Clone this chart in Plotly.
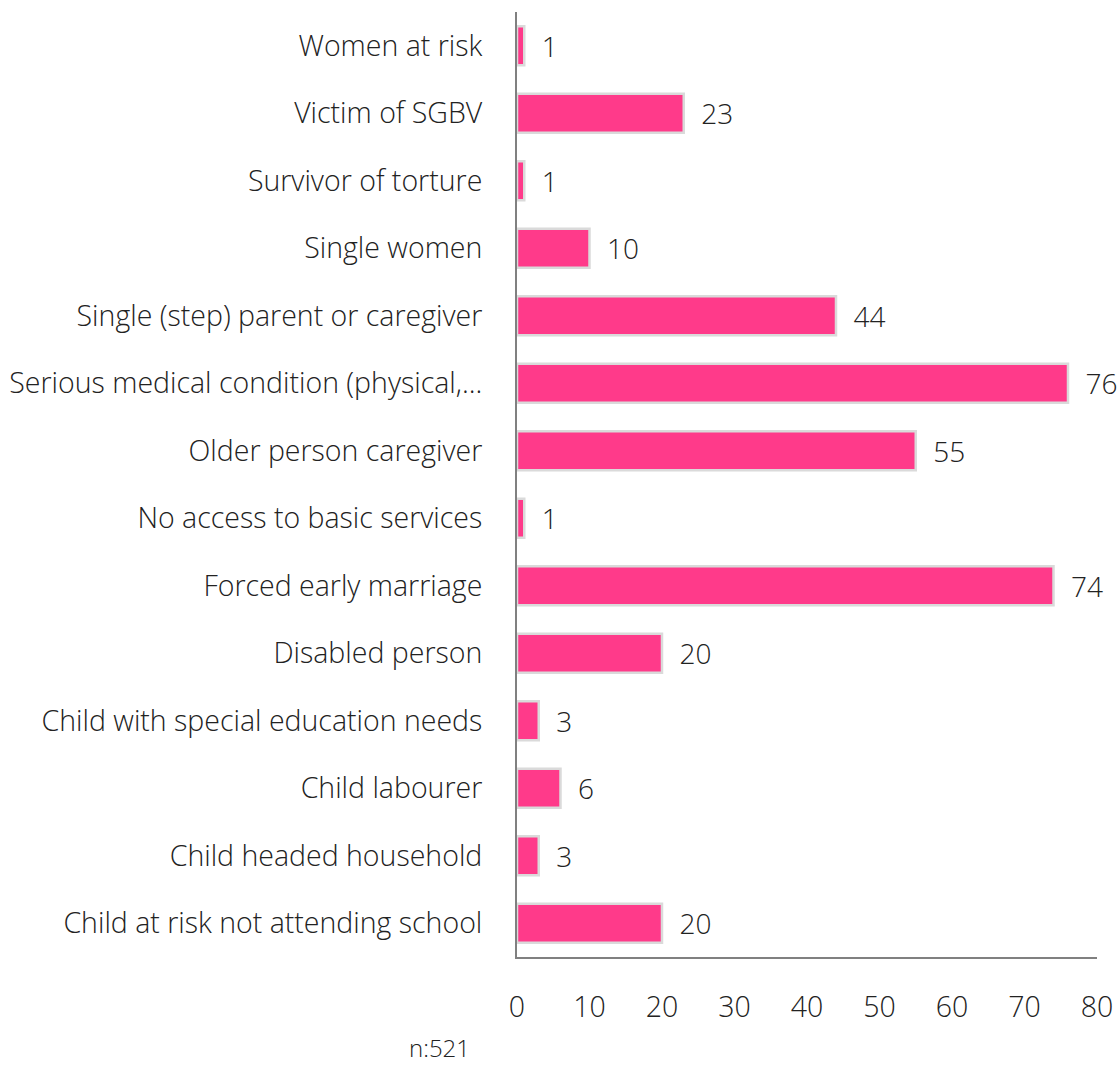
import plotly.graph_objects as go

categories = [
    "Women at risk",
    "Victim of SGBV",
    "Survivor of torture",
    "Single women",
    "Single (step) parent or caregiver",
    "Serious medical condition (physical,...",
    "Older person caregiver",
    "No access to basic services",
    "Forced early marriage",
    "Disabled person",
    "Child with special education needs",
    "Child labourer",
    "Child headed household",
    "Child at risk not attending school",
]
values = [1, 23, 1, 10, 44, 76, 55, 1, 74, 20, 3, 6, 3, 20]
x_ticks = [0, 10, 20, 30, 40, 50, 60, 70, 80]
note = "n:521"

FONT = "Open Sans"
SIZE = 28.5
fig = go.Figure()
fig.add_trace(go.Bar(
    y=categories,
    x=values,
    orientation="h",
    width=0.58,
    marker=dict(color="#FF3A8A", line=dict(color="#DADADA", width=2.5)),
    text=[f"  {v}" for v in values],
    textposition="outside",
    textfont=dict(family=FONT, size=28, color="#222222", weight=300),
    cliponaxis=False,
))

fig.update_layout(
    width=1118, height=1065,
    margin=dict(l=517, r=21, t=12, b=108, autoexpand=False),
    paper_bgcolor="white", plot_bgcolor="white",
    showlegend=False,
    font=dict(family=FONT, size=SIZE, color="#222222", weight=300),
    xaxis=dict(
        range=[0, 80], tickvals=x_ticks, showgrid=False, zeroline=False,
        showline=True, linecolor="#808080", linewidth=2, automargin=False,
        ticks="outside", ticklen=24, tickcolor="rgba(0,0,0,0)",
        tickfont=dict(family=FONT, size=SIZE, color="#222222", weight=300),
    ),
    yaxis=dict(
        categoryorder="array", categoryarray=categories[::-1],
        showgrid=False, zeroline=False, automargin=False,
        showline=True, linecolor="#808080", linewidth=2,
        ticks="outside", ticklen=27, tickcolor="rgba(0,0,0,0)",
        tickfont=dict(family=FONT, size=SIZE, color="#222222", weight=300),
    ),
    annotations=[dict(
        text=note, xref="paper", yref="paper", x=-0.133, y=-0.096,
        xanchor="center", yanchor="middle", showarrow=False,
        font=dict(family=FONT, size=24, color="#222222", weight=300),
    )],
)

fig.write_html("out.html")
